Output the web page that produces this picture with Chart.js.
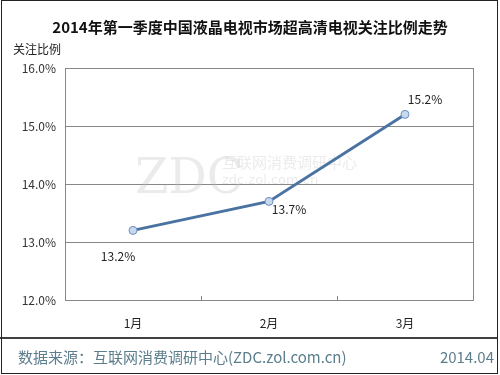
<!DOCTYPE html>
<html>
<head>
<meta charset="utf-8">
<script src="https://cdn.jsdelivr.net/npm/chart.js@4/dist/chart.umd.min.js"></script>
<style>
  html, body { margin: 0; padding: 0; background: #fff; }
  #wrap { width: 500px; height: 375px; }
</style>
</head>
<body>
<div id="wrap"><canvas id="myChart" width="500" height="375"></canvas></div>
<script>
// chart data
var months = ["1月", "2月", "3月"];
var ratios = [13.2, 13.7, 15.2];
var yTicks = [12, 13, 14, 15, 16];

var titleText = "2014年第一季度中国液晶电视市场超高清电视关注比例走势";
var yTitle = "关注比例";
var sourceText = "数据来源：互联网消费调研中心(ZDC.zol.com.cn)";
var dateText = "2014.04";

var FONT = "'Noto Sans CJK SC', 'Noto Sans', sans-serif";

// label offsets for each point (style only)
var labelOffsets = [[-15, 26], [20, 8], [20, -15]];

var decorPlugin = {
  id: 'decor',
  beforeDatasetsDraw: function (chart) {
    var ctx = chart.ctx;
    // faint watermark
    ctx.save();
    ctx.fillStyle = 'rgba(190,190,190,0.3)';
    ctx.font = "48px 'DejaVu Serif', serif";
    ctx.textBaseline = 'alphabetic';
    ctx.fillText("ZDC", 135, 193);
    ctx.font = "15px " + FONT;
    ctx.fillText("互联网消费调研中心", 222, 168);
    ctx.font = "13px 'DejaVu Sans', sans-serif";
    ctx.fillText("zdc.zol.com.cn", 222, 184);
    ctx.restore();
  },
  afterDraw: function (chart) {
    var ctx = chart.ctx;
    var a = chart.chartArea;
    ctx.save();
    // plot frame
    ctx.strokeStyle = '#888';
    ctx.lineWidth = 1;
    ctx.strokeRect(Math.round(a.left) + 0.5, Math.round(a.top) + 0.5,
      Math.round(a.right - a.left), Math.round(a.bottom - a.top));
    // little category ticks on the bottom edge
    var xs = chart.scales.x;
    for (var i = 1; i < months.length; i++) {
      var px = Math.round((xs.getPixelForValue(i - 1) + xs.getPixelForValue(i)) / 2) + 0.5;
      ctx.beginPath();
      ctx.moveTo(px, a.bottom);
      ctx.lineTo(px, a.bottom - 4);
      ctx.stroke();
    }

    // title
    ctx.fillStyle = '#111';
    ctx.textAlign = 'center';
    ctx.textBaseline = 'middle';
    ctx.font = "bold 15px " + FONT;
    ctx.fillText(titleText, 250, 27);

    // y axis name
    ctx.textAlign = 'left';
    ctx.font = "12px " + FONT;
    ctx.fillStyle = '#222';
    ctx.fillText(yTitle, 13, 49);

    // value labels
    var meta = chart.getDatasetMeta(0);
    ctx.textAlign = 'center';
    ctx.font = "12px " + FONT;
    ctx.fillStyle = '#222';
    meta.data.forEach(function (pt, idx) {
      var off = labelOffsets[idx];
      ctx.fillText(ratios[idx].toFixed(1) + '%', pt.x + off[0], pt.y + off[1]);
    });

    // footer
    ctx.strokeStyle = '#000';
    ctx.lineWidth = 1.5;
    ctx.beginPath();
    ctx.moveTo(0, 338);
    ctx.lineTo(498, 338);
    ctx.stroke();
    ctx.font = "15px " + FONT;
    ctx.fillStyle = '#5c7d8c';
    ctx.textAlign = 'left';
    ctx.fillText(sourceText, 18, 357);
    ctx.textAlign = 'right';
    ctx.fillText(dateText, 494, 357);

    // outer frame
    ctx.lineWidth = 1;
    ctx.strokeStyle = '#222';
    ctx.strokeRect(1.5, 0.5, 496, 373);
    ctx.restore();
  }
};

var ctx = document.getElementById("myChart");
var myChart = new Chart(ctx, {
  type: 'line',
  data: {
    labels: months,
    datasets: [{
      label: yTitle,
      data: ratios,
      borderColor: '#4a73a2',
      borderWidth: 3,
      pointRadius: 4,
      pointHoverRadius: 4,
      pointBackgroundColor: '#c8d8ee',
      pointBorderColor: '#6a8fbe',
      pointBorderWidth: 1,
      tension: 0
    }]
  },
  options: {
    responsive: false,
    animation: false,
    events: [],
    layout: {
      padding: { top: 68, bottom: 37, left: 0, right: 27 }
    },
    plugins: {
      legend: { display: false },
      tooltip: { enabled: false }
    },
    scales: {
      x: {
        offset: true,
        grid: { display: false },
        border: { display: false },
        ticks: {
          padding: 8,
          color: '#222',
          font: { family: FONT, size: 12 }
        },
        afterFit: function (scale) { scale.height = 38; }
      },
      y: {
        min: yTicks[0],
        max: yTicks[yTicks.length - 1],
        afterBuildTicks: function (scale) {
          scale.ticks = yTicks.map(function (v) { return { value: v }; });
        },
        grid: { color: '#888', lineWidth: 1, tickLength: 0 },
        border: { display: false },
        ticks: {
          padding: 9,
          color: '#333',
          font: { family: FONT, size: 12 },
          callback: function (value) { return value.toFixed(1) + '%'; }
        },
        afterFit: function (scale) { scale.width = 65; }
      }
    }
  },
  plugins: [decorPlugin]
});
</script>
</body>
</html>
